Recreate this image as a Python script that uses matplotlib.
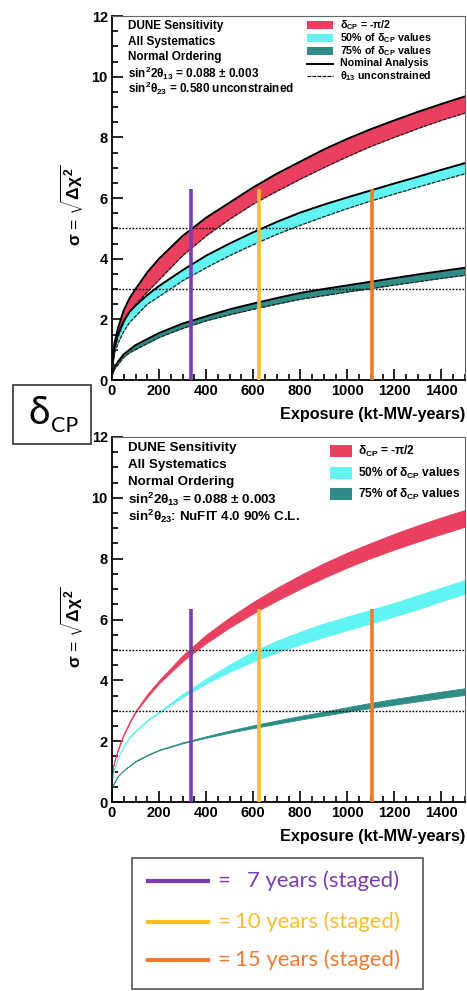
import matplotlib
matplotlib.use("Agg")
import matplotlib.pyplot as plt
from matplotlib.patches import Rectangle
from matplotlib.lines import Line2D
from matplotlib.ticker import MultipleLocator

plt.rcParams['font.family'] = ['Liberation Sans', 'DejaVu Sans']
plt.rcParams['font.weight'] = 'bold'
plt.rcParams['mathtext.fontset'] = 'custom'
plt.rcParams['mathtext.rm'] = 'Liberation Sans:bold'
plt.rcParams['mathtext.it'] = 'Liberation Sans:bold'
plt.rcParams['mathtext.bf'] = 'Liberation Sans:bold'
plt.rcParams['mathtext.sf'] = 'Liberation Sans:bold'

# ---- data: exposure (kt-MW-years) and significance bands ----
exposure = [0, 10, 25, 50, 75, 100, 150, 200, 300, 400, 500, 600, 700,
            800, 900, 1000, 1100, 1200, 1300, 1400, 1500]

# sin^2 theta23 = 0.580 unconstrained (upper edge = nominal, lower = theta13 unconstrained)
a_red_hi = [0.35, 1.2, 1.7, 2.3, 2.7, 3.0, 3.55, 4.0, 4.75, 5.35, 5.85, 6.35, 6.8,
            7.2, 7.6, 7.95, 8.27, 8.56, 8.84, 9.1, 9.35]
a_red_lo = [0.3, 0.95, 1.4, 1.9, 2.25, 2.5, 2.9, 3.3, 4.1, 4.75, 5.3, 5.8, 6.22,
            6.62, 7.0, 7.36, 7.7, 8.0, 8.29, 8.56, 8.8]
a_cyan_hi = [0.3, 1.05, 1.5, 1.95, 2.25, 2.45, 2.8, 3.1, 3.62, 4.1, 4.5, 4.87, 5.21,
             5.52, 5.78, 6.02, 6.25, 6.48, 6.7, 6.93, 7.15]
a_cyan_lo = [0.25, 0.85, 1.2, 1.6, 1.9, 2.1, 2.5, 2.75, 3.27, 3.7, 4.1, 4.46, 4.8,
             5.1, 5.38, 5.65, 5.9, 6.13, 6.36, 6.58, 6.8]
a_teal_hi = [0.15, 0.4, 0.6, 0.85, 1.0, 1.15, 1.35, 1.55, 1.86, 2.1, 2.33, 2.52, 2.7,
             2.87, 3.0, 3.12, 3.24, 3.36, 3.48, 3.59, 3.7]
a_teal_lo = [0.15, 0.35, 0.5, 0.75, 0.9, 1.0, 1.2, 1.4, 1.7, 1.95, 2.15, 2.33, 2.5,
             2.66, 2.78, 2.9, 3.01, 3.13, 3.24, 3.35, 3.45]

# sin^2 theta23 : NuFIT 4.0 90% C.L.
b_red_hi = [1.0, 1.35, 1.75, 2.25, 2.65, 3.0, 3.55, 4.0, 4.82, 5.5, 6.07, 6.58, 7.04,
            7.46, 7.85, 8.2, 8.52, 8.82, 9.1, 9.36, 9.6]
b_red_lo = [1.0, 1.33, 1.7, 2.2, 2.6, 2.95, 3.45, 3.9, 4.63, 5.22, 5.74, 6.2, 6.62,
            7.01, 7.37, 7.71, 8.02, 8.3, 8.56, 8.81, 9.05]
b_cyan_hi = [0.75, 1.1, 1.45, 1.85, 2.15, 2.35, 2.7, 2.97, 3.55, 4.05, 4.52, 4.95, 5.3,
             5.6, 5.87, 6.1, 6.32, 6.55, 6.8, 7.05, 7.3]
b_cyan_lo = [0.75, 1.1, 1.45, 1.83, 2.12, 2.32, 2.67, 2.93, 3.45, 3.9, 4.28, 4.62, 4.92,
             5.18, 5.42, 5.65, 5.87, 6.1, 6.34, 6.6, 6.85]
b_teal_hi = [0.5, 0.65, 0.85, 1.05, 1.2, 1.35, 1.55, 1.72, 1.96, 2.16, 2.35, 2.52, 2.68,
             2.83, 2.97, 3.12, 3.26, 3.39, 3.51, 3.63, 3.74]
b_teal_lo = [0.5, 0.65, 0.85, 1.05, 1.19, 1.33, 1.53, 1.7, 1.93, 2.11, 2.28, 2.43, 2.57,
             2.71, 2.84, 2.97, 3.09, 3.2, 3.31, 3.42, 3.52]

# staged-running milestones
stage_exposure = [334, 626, 1106]
stage_height = [6.3, 6.35]
stage_years = ["7 years (staged)", "10 years (staged)", "15 years (staged)"]
stage_colors = ["#7b3db3", "#fbbd2b", "#ef7b2f"]

band_labels = [r"$\delta_{CP}$ = -$\pi$/2", r"50% of $\delta_{CP}$ values",
               r"75% of $\delta_{CP}$ values"]
line_labels = ["Nominal Analysis", r"$\theta_{13}$ unconstrained"]
c_red, c_cyan, c_teal = "#e8405e", "#62f3f3", "#2f8c86"
sigma_levels = [3, 5]

top_text = ["DUNE Sensitivity", "All Systematics", "Normal Ordering",
            r"sin$^{2}$2$\theta_{13}$ = 0.088 $\pm$ 0.003",
            r"sin$^{2}\theta_{23}$ = 0.580 unconstrained"]
bot_text = ["DUNE Sensitivity", "All Systematics", "Normal Ordering",
            r"sin$^{2}$2$\theta_{13}$ = 0.088 $\pm$ 0.003",
            r"sin$^{2}\theta_{23}$: NuFIT 4.0 90% C.L."]

W, H = 467, 991
fig = plt.figure(figsize=(W / 100, H / 100), dpi=100)
fig.patch.set_facecolor("white")
renderer = fig.canvas.get_renderer()


def fx(px):
    return px / W


def fy(py):
    return 1 - py / H


def fit_width(texts, ref, target_px):
    """Scale the font of a group of texts so that `ref` spans target_px."""
    w = ref.get_window_extent(renderer).width
    k = target_px / w
    for t in texts:
        t.set_fontsize(t.get_fontsize() * k)


ax1 = fig.add_axes([fx(112), fy(380), (465 - 112) / W, (380 - 16) / H])
ax2 = fig.add_axes([fx(112), fy(802), (465 - 112) / W, (802 - 437) / H])


def style_axes(ax):
    ax.set_xlim(0, 1500)
    ax.set_ylim(0, 12)
    ax.xaxis.set_major_locator(MultipleLocator(200))
    ax.xaxis.set_minor_locator(MultipleLocator(50))
    ax.yaxis.set_major_locator(MultipleLocator(2))
    ax.yaxis.set_minor_locator(MultipleLocator(0.5))
    ax.tick_params(which="both", direction="in", top=False, right=False,
                   labelsize=10.5, width=1.2)
    ax.tick_params(which="major", length=8, pad=3)
    ax.tick_params(which="minor", length=4)
    for lab in ax.get_xticklabels() + ax.get_yticklabels():
        lab.set_fontweight("bold")
    for s in ["left", "bottom"]:
        ax.spines[s].set_linewidth(1.3)
    for s in ["right", "top"]:
        ax.spines[s].set_linewidth(0.8)
        ax.spines[s].set_color("#666666")
    ax.set_ylabel(r"$\sigma$ = $\sqrt{\Delta\chi^{2}}$", fontsize=12.5)
    ax.yaxis.set_label_coords(-0.075, 0.48)
    ax.set_xlabel("Exposure (kt-MW-years)", fontsize=11.5, fontweight="bold",
                  ha="right")
    ax.xaxis.set_label_coords(1.0, -0.075)
    fit_width([ax.xaxis.label], ax.xaxis.label, 187)
    for lv in sigma_levels:
        ax.axhline(lv, color="black", ls=(0, (1.2, 1.2)), lw=1.0, zorder=3)


style_axes(ax1)
style_axes(ax2)

# top panel: bands with nominal (solid) and theta13-unconstrained (dashed) edges
for lo, hi, col in [(a_red_lo, a_red_hi, c_red), (a_cyan_lo, a_cyan_hi, c_cyan),
                    (a_teal_lo, a_teal_hi, c_teal)]:
    ax1.fill_between(exposure, lo, hi, color=col, lw=0, zorder=2)
    ax1.plot(exposure, hi, color="black", lw=1.4, zorder=4)
    ax1.plot(exposure, lo, color="#222222", lw=0.9, ls=(0, (3, 1)), zorder=4)

# bottom panel: bands only
for lo, hi, col in [(b_red_lo, b_red_hi, c_red), (b_cyan_lo, b_cyan_hi, c_cyan),
                    (b_teal_lo, b_teal_hi, c_teal)]:
    ax2.fill_between(exposure, lo, hi, color=col, lw=0.6, edgecolor=col, zorder=2)

# staged-running markers
for ax, h in zip([ax1, ax2], stage_height):
    for xe, col in zip(stage_exposure, stage_colors):
        ax.plot([xe, xe], [0, h], color=col, lw=2.6, zorder=5, solid_capstyle="butt")

# annotation blocks
blk = []
for i, t in enumerate(top_text):
    blk.append(ax1.text(0.045, (380 - (26 + 15.7 * i)) / 364, t, transform=ax1.transAxes,
                        fontsize=8.4, fontweight="bold", va="center", ha="left"))
fit_width(blk, blk[0], 95)
blk = []
for i, t in enumerate(bot_text):
    blk.append(ax2.text(0.045, (802 - (448 + 17.2 * i)) / 365, t, transform=ax2.transAxes,
                        fontsize=9.6, fontweight="bold", va="center", ha="left"))
fit_width(blk, blk[0], 109)

# legend, top panel
rows_top = [25, 38, 51, 63.5, 76]
leg = []
for i, (lab, col) in enumerate(zip(band_labels, [c_red, c_cyan, c_teal])):
    yc = (380 - rows_top[i]) / 364
    ax1.add_patch(Rectangle((0.552, yc - 0.011), 0.074, 0.022, transform=ax1.transAxes,
                            facecolor=col, edgecolor="none", zorder=6))
    leg.append(ax1.text(0.646, yc, lab, transform=ax1.transAxes, fontsize=7.3,
                        fontweight="bold", va="center", ha="left"))
for j, (lab, ls, lw) in enumerate(zip(line_labels, ["-", (0, (3, 1))], [1.4, 0.9])):
    yc = (380 - rows_top[3 + j]) / 364
    ax1.add_line(Line2D([0.552, 0.626], [yc, yc], transform=ax1.transAxes,
                        color="black", ls=ls, lw=lw))
    leg.append(ax1.text(0.646, yc, lab, transform=ax1.transAxes, fontsize=7.3,
                        fontweight="bold", va="center", ha="left"))
fit_width(leg, leg[3], 88)

# legend, bottom panel
rows_bot = [451, 473, 494]
leg = []
for i, (lab, col) in enumerate(zip(band_labels, [c_red, c_cyan, c_teal])):
    yc = (802 - rows_bot[i]) / 365
    ax2.add_patch(Rectangle((0.618, yc - 0.017), 0.062, 0.034, transform=ax2.transAxes,
                            facecolor=col, edgecolor="none", zorder=6))
    leg.append(ax2.text(0.697, yc, lab, transform=ax2.transAxes, fontsize=8.5,
                        fontweight="bold", va="center", ha="left"))
fit_width(leg, leg[1], 102)

# delta_CP tag
fig.add_artist(Rectangle((fx(13), fy(444)), (91 - 13) / W, (444 - 385) / H,
                         transform=fig.transFigure, facecolor="white",
                         edgecolor="#333333", lw=1.2))
t_delta = fig.text(fx(29), fy(413), "δ", fontsize=28, family="Lato",
                   fontweight="normal", ha="left", va="center")
x_cp = t_delta.get_window_extent(renderer).x1 + 1
fig.text(x_cp / W, fy(426), "CP", fontsize=15.5, family="Lato", fontweight="normal",
         ha="left", va="center")

# staged-years key
fig.add_artist(Rectangle((fx(132), fy(989)), (423 - 132) / W, (989 - 858) / H,
                         transform=fig.transFigure, facecolor="white",
                         edgecolor="#555555", lw=1.2))
key_rows = [881, 922, 960]
key_text_x = [247, 235, 235]
key = []
for yk, xt, lab, col in zip(key_rows, key_text_x, stage_years, stage_colors):
    fig.add_artist(Line2D([fx(148), fx(208)], [fy(yk), fy(yk)],
                          transform=fig.transFigure, color=col, lw=3))
    key.append(fig.text(fx(217), fy(yk), "=", fontsize=13.5, family="Lato",
                        fontweight="normal", color=col, ha="left", va="center"))
    key.append(fig.text(fx(xt), fy(yk), lab, fontsize=13.5, family="Lato",
                        fontweight="normal", color=col, ha="left", va="center"))
fit_width(key, key[3], 165)

fig.savefig("out.png", dpi=100, facecolor="white")
